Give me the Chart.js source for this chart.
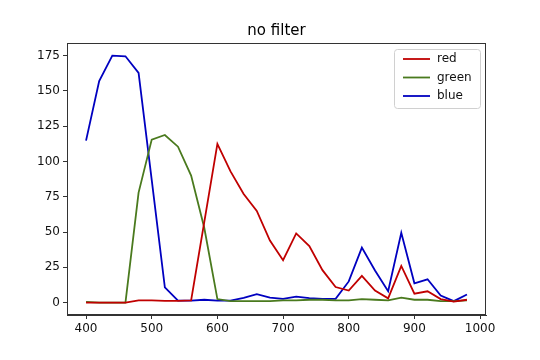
<!DOCTYPE html>
<html>
<head>
<meta charset="utf-8">
<script src="https://cdn.jsdelivr.net/npm/chart.js@4"></script>
<style>
html,body{margin:0;padding:0;background:#fff;}
#wrap{width:540px;height:360px;position:relative;}
</style>
</head>
<body>
<div id="wrap"><canvas id="c" width="540" height="360"></canvas></div>
<script>
const wavelengths = [400,420,440,460,480,500,520,540,560,580,600,620,640,660,680,700,720,740,760,780,800,820,840,860,880,900,920,940,960,980];
const redValues   = [0,0,0,0,1.5,1.5,1.2,1.2,1.5,57,112.5,93,77,65,44,30,49,40,23,11,8.5,19,8.5,3,26,6.3,8,2.5,0.7,2];
const greenValues = [0.5,0,0,0,78,115.5,118.8,110.5,90,53,2.5,1,1,1,1,1.5,1.5,2,2,1.5,1.5,2.5,2,1.5,3.5,2,2,1,1,1.5];
const blueValues  = [114.8,157,175,174.6,162.8,87,10.8,1.4,1.4,2,1.4,1.4,3.3,6,3.5,2.7,4.2,3.2,2.7,2.7,15,39,22.7,8,49.4,13.7,16.5,5,1,5.7];
const seriesNames = ['red','green','blue'];
const seriesColors = ['#c00000','#4a7a1e','#0000c0'];
const xTicks = [400,500,600,700,800,900,1000];
const yTicks = [0,25,50,75,100,125,150,175];
const titleText = 'no filter';

const FONT = "'DejaVu Sans', sans-serif";
const seriesData = [redValues, greenValues, blueValues];

const frame = {
  id: 'frame',
  afterDraw(chart) {
    const {ctx, chartArea: a} = chart;
    ctx.save();
    ctx.strokeStyle = '#333';
    ctx.lineWidth = 1;
    ctx.strokeRect(Math.round(a.left)+0.5, Math.round(a.top)+0.5, Math.round(a.right-a.left)-1, Math.round(a.bottom-a.top)-1);
    // title centred over the axes
    ctx.fillStyle = '#000';
    ctx.font = '15px ' + FONT;
    ctx.textAlign = 'center';
    ctx.textBaseline = 'middle';
    ctx.fillText(titleText, (a.left + a.right) / 2, a.top - 12);
    // legend
    const bx = a.right - 92, by = a.top + 6, bw = 86, bh = 59;
    ctx.fillStyle = 'rgba(255,255,255,0.85)';
    ctx.strokeStyle = '#d0d0d0';
    ctx.beginPath();
    if (ctx.roundRect) ctx.roundRect(bx+0.5, by+0.5, bw, bh, 3); else ctx.rect(bx+0.5, by+0.5, bw, bh);
    ctx.fill(); ctx.stroke();
    ctx.font = '12px ' + FONT;
    ctx.textBaseline = 'middle';
    ctx.textAlign = 'left';
    chart.data.datasets.forEach((ds, i) => {
      const y = by + 10 + i * 18.5;
      ctx.strokeStyle = ds.borderColor;
      ctx.lineWidth = 1.8;
      ctx.beginPath(); ctx.moveTo(bx + 9, y); ctx.lineTo(bx + 36, y); ctx.stroke();
      ctx.fillStyle = '#111';
      ctx.fillText(ds.label, bx + 43, y);
    });
    ctx.restore();
  }
};

new Chart(document.getElementById('c'), {
  type: 'line',
  data: {
    datasets: seriesNames.map((n, i) => ({
      label: n,
      data: wavelengths.map((w, j) => ({x: w, y: seriesData[i][j]})),
      borderColor: seriesColors[i],
      backgroundColor: seriesColors[i],
      borderWidth: 1.8,
      pointRadius: 0,
      tension: 0,
      fill: false
    }))
  },
  options: {
    responsive: false,
    animation: false,
    devicePixelRatio: 1,
    layout: {padding: {left: 0, right: 54, top: 43, bottom: 0}},
    plugins: {
      legend: {display: false},
      tooltip: {enabled: false},
      title: {display: false}
    },
    scales: {
      x: {
        type: 'linear', min: 371, max: 1009,
        afterBuildTicks: s => { s.ticks = xTicks.map(v => ({value: v})); },
        afterFit: s => { s.height = 45; },
        grid: {drawOnChartArea: false, drawTicks: true, tickLength: 4, color: '#333'},
        border: {display: true, color: '#333'},
        ticks: {color: '#111', font: {family: FONT, size: 12}, padding: 3, maxRotation: 0, autoSkip: false, callback: v => String(v)}
      },
      y: {
        type: 'linear', min: -8.8, max: 184,
        afterBuildTicks: s => { s.ticks = yTicks.map(v => ({value: v})); },
        afterFit: s => { s.width = 67; },
        grid: {drawOnChartArea: false, drawTicks: true, tickLength: 4, color: '#333'},
        border: {display: true, color: '#333'},
        ticks: {color: '#111', font: {family: FONT, size: 12}, padding: 3, autoSkip: false, callback: v => String(v)}
      }
    }
  },
  plugins: [frame]
});
</script>
</body>
</html>
